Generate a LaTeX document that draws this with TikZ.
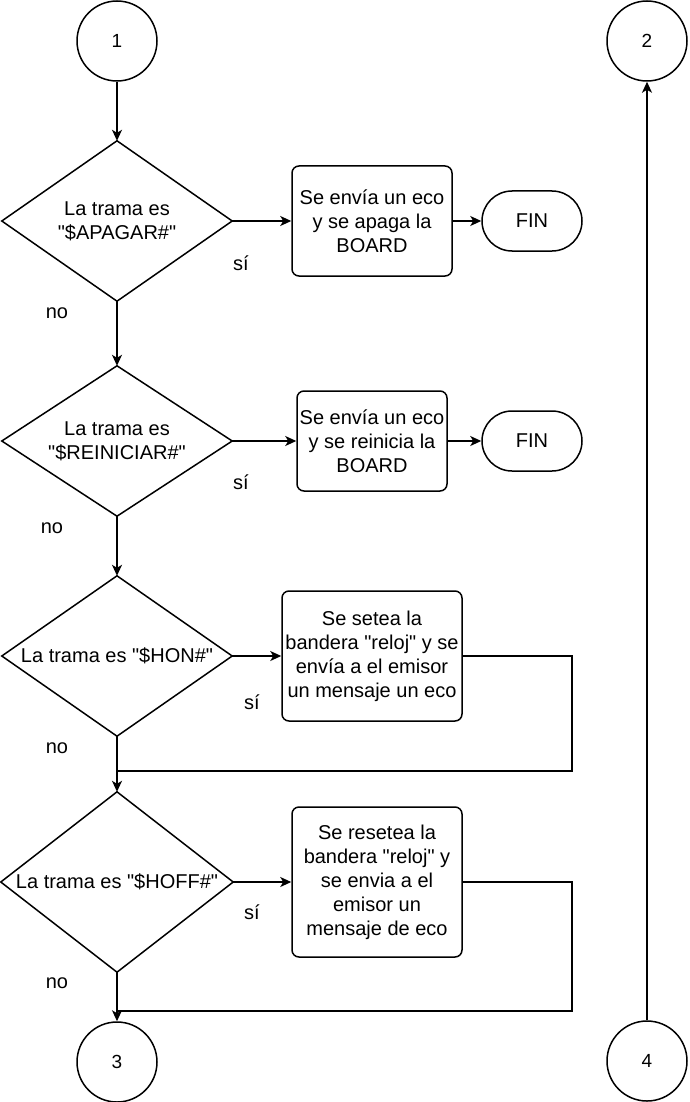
\documentclass[tikz,border=0pt]{standalone}
\usepackage{fontspec}
\setmainfont{Liberation Sans}[Ligatures=TeXOff]
\usetikzlibrary{arrows.meta}
\newcommand{\dq}{\char34\relax}
\begin{document}
\begin{tikzpicture}[x=1pt,y=-1pt,
  every node/.style={font=\fontsize{20}{24}\selectfont, inner sep=0pt},
  conn/.style={line width=1.5pt, draw=black},
  arr/.style={conn, -{Stealth[length=11pt,width=10pt,inset=3pt]}},
  term/.style={circle, draw, line width=1.5pt, minimum size=80pt, font=\fontsize{19}{22}\selectfont},
  dtext/.style={rectangle, align=center},
  procbox/.style={rectangle, draw, line width=1.5pt, rounded corners=7pt, align=center},
  finbox/.style={rectangle, draw, line width=1.5pt, rounded corners=30pt, minimum width=100pt, minimum height=60pt},
  lbl/.style={anchor=base}
]
\useasboundingbox (0,0) rectangle (689,1102);

% terminals
\node[term] (c1) at (117,41) {1};
\node[term] (c2) at (647,41) {2};
\node[term] (c3) at (117,1062) {3};
\node[term] (c4) at (647,1061) {4};

% decisions
\node[dtext, minimum width=230pt, minimum height=160pt] (d1) at (117,221) {La trama es\\\dq\$APAGAR\#\dq};
\node[dtext, minimum width=230pt, minimum height=150pt] (d2) at (117,441) {La trama es\\\dq\$REINICIAR\#\dq};
\node[dtext, minimum width=230pt, minimum height=160pt] (d3) at (117,656) {La trama es \dq\$HON\#\dq};
\node[dtext, minimum width=232pt, minimum height=180pt] (d4) at (117,882) {La trama es \dq\$HOFF\#\dq};
\foreach \d in {d1,d2,d3,d4}{
  \draw[conn, line join=miter] (\d.north) -- (\d.east) -- (\d.south) -- (\d.west) -- cycle;
}

% processes
\node[procbox, minimum width=160pt, minimum height=110pt] (b1) at (372,221) {Se envía un eco\\y se apaga la\\BOARD};
\node[procbox, minimum width=150pt, minimum height=100pt] (b2) at (372,441) {Se envía un eco\\y se reinicia la\\BOARD};
\node[procbox, minimum width=180pt, minimum height=130pt] (b3) at (372,656) {Se setea la\\bandera \dq reloj\dq{} y se\\envía a el emisor\\un mensaje un eco};
\node[procbox, minimum width=170pt, minimum height=150pt] (b4) at (377,882) {Se resetea la\\bandera \dq reloj\dq{} y\\se envia a el\\emisor un\\mensaje de eco};

% ends
\node[finbox] (f1) at (532,221) {FIN};
\node[finbox] (f2) at (532,441) {FIN};

% junction points
\coordinate (r3) at (572,771);
\coordinate (j3) at (117,771);
\coordinate (r4) at (572,1011);
\coordinate (j4) at (117,1011);

% connectors
\draw[arr] (c1.south) -- (d1.north);
\draw[arr] (d1.east) -- (b1.west);
\draw[arr] (b1.east) -- (f1.west);
\draw[arr] (d1.south) -- (d2.north);
\draw[arr] (d2.east) -- (b2.west);
\draw[arr] (b2.east) -- (f2.west);
\draw[arr] (d2.south) -- (d3.north);
\draw[arr] (d3.east) -- (b3.west);
\draw[arr] (d3.south) -- (d4.north);
\draw[conn] (b3.east) -| (r3) -- (j3);
\draw[arr] (d4.east) -- (b4.west);
\draw[arr] (d4.south) -- (c3.north);
\draw[conn] (b4.east) -| (r4) -- (j4);
\draw[arr] (c4.north) -- (c2.south);

% labels
\node[lbl] (s1) at (241,270) {sí};
\node[lbl] (n1) at (57,318) {no};
\node[lbl] (s2) at (241,489) {sí};
\node[lbl] (n2) at (52,533) {no};
\node[lbl] (s3) at (252,709) {sí};
\node[lbl] (n3) at (57,753) {no};
\node[lbl] (s4) at (252,919) {sí};
\node[lbl] (n4) at (57,988) {no};
\end{tikzpicture}
\end{document}
